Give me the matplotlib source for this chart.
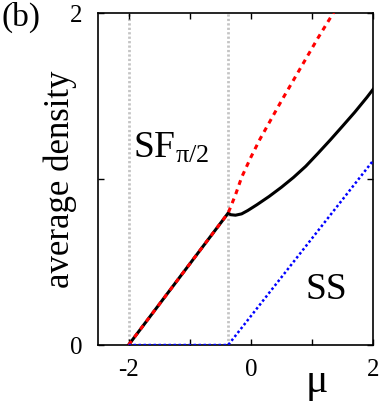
import numpy as np
import matplotlib
matplotlib.use('Agg')
import matplotlib.pyplot as plt

plt.rcParams['font.family'] = ['Liberation Serif', 'DejaVu Serif']
plt.rcParams['mathtext.fontset'] = 'custom'
plt.rcParams['mathtext.rm'] = 'Liberation Serif'
plt.rcParams['mathtext.it'] = 'Liberation Serif:italic'

# data
mu_total = [-2.0, -0.37, -0.33, -0.25, -0.15, -0.05, 0.1, 0.3, 0.5, 0.7, 0.9,
            1.1, 1.3, 1.5, 1.7, 1.9, 2.0]
n_total = [0.0, 0.795, 0.785, 0.782, 0.79, 0.81, 0.845, 0.895, 0.95, 1.01, 1.077,
           1.155, 1.235, 1.318, 1.402, 1.492, 1.54]

mu_sf = [-2.0, -0.37, -0.25, -0.15, 0.0, 0.15, 0.5, 0.8, 1.1, 1.4]
n_sf = [0.0, 0.795, 0.905, 1.01, 1.13, 1.24, 1.47, 1.66, 1.85, 2.03]

mu_ss = [-2.0, -0.37, 2.0]
n_ss = [0.0, 0.0, 1.11]

mu_bounds = [-2.0, -0.37]

xticks = [-2, -1, 0, 1, 2]
xticklabels = ['-2', '', '0', '', '2']
yticks = [0, 1, 2]
yticklabels = ['0', '', '2']

fig = plt.figure(figsize=(3.82, 4.03), dpi=100)
ax = fig.add_axes([0.2565, 0.1439, 0.72, 0.8238])

for m in mu_bounds:
    ax.axvline(m, color='#c4c4c4', lw=2.0, dashes=(0.8, 0.8), zorder=1)

ax.plot(mu_total, n_total, color='black', lw=2.2, zorder=3)
ax.plot(mu_sf, n_sf, color='red', lw=2.2, dashes=(1.6, 1.6), zorder=4)
ax.plot(mu_ss, n_ss, color='blue', lw=1.8, dashes=(1, 1), zorder=4)

ax.set_xlim(-2.5, 2)
ax.set_ylim(0, 2)
ax.set_xticks(xticks)
ax.set_xticklabels(xticklabels)
ax.set_yticks(yticks)
ax.set_yticklabels(yticklabels)
ax.tick_params(direction='in', length=4, width=1, labelsize=18,
               top=True, right=True)
ax.tick_params(axis='x', pad=10)
ax.tick_params(axis='y', pad=11)
for s in ax.spines.values():
    s.set_linewidth(1.2)

ax.set_ylabel('average density', fontsize=25)
ax.yaxis.set_label_coords(-0.078, 0.5)
ax.text(0.796, -0.1416, 'μ', transform=ax.transAxes, fontsize=30,
        ha='center', va='baseline')

ax.text(-1.93, 1.13, r'SF$_{\mathrm{π/2}}$', fontsize=27)
ax.text(0.9, 0.28, 'SS', fontsize=27)
fig.text(0.005, 0.995, '(b)', fontsize=24, ha='left', va='top')

fig.savefig('out.png', dpi=100)
